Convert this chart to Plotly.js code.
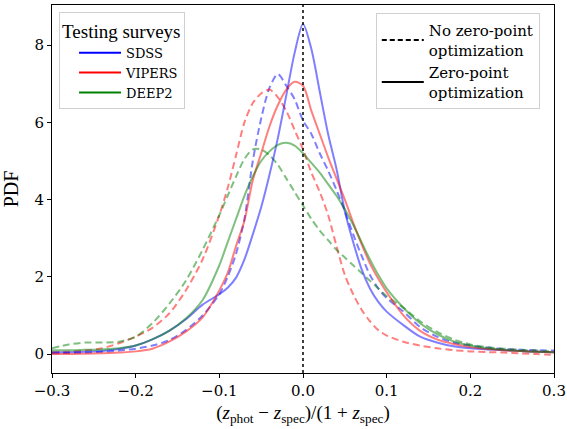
<!DOCTYPE html>
<html>
<head>
<meta charset="utf-8">
<script src="https://cdn.plot.ly/plotly-3.0.1.min.js"></script>
<style>html,body{margin:0;padding:0;background:#fff;}#chart{width:567px;height:429px;}</style>
</head>
<body>
<div id="chart"></div>
<script>
const xGrid = [-0.30,-0.28,-0.26,-0.24,-0.22,-0.20,-0.18,-0.16,-0.14,-0.12,
  -0.10,-0.09,-0.08,-0.07,-0.06,-0.05,-0.04,-0.03,-0.02,-0.01,0.00,0.01,0.02,0.03,0.04,0.05,0.06,0.07,0.08,0.09,0.10,
  0.12,0.14,0.16,0.18,0.20,0.22,0.24,0.26,0.28,0.30];

const sdssZP = [0.05,0.05,0.06,0.08,0.13,0.22,0.38,0.6,0.9,1.28,
  1.55,1.72,1.98,2.45,3.1,3.8,4.65,5.6,6.7,7.8,8.55,7.9,6.8,5.7,4.8,3.7,2.9,2.2,1.7,1.35,1.1,
  0.75,0.45,0.3,0.2,0.15,0.12,0.1,0.08,0.06,0.05];
const sdssNoZP = [0.02,0.03,0.04,0.06,0.09,0.14,0.22,0.36,0.62,1.0,
  1.55,2.0,2.6,3.5,5.0,6.1,6.9,7.25,6.95,6.6,6.05,5.7,5.2,4.75,4.25,3.7,3.1,2.55,2.05,1.7,1.45,
  1.1,0.7,0.45,0.3,0.22,0.17,0.13,0.11,0.1,0.09];
const vipersZP = [0.0,0.0,0.01,0.02,0.04,0.07,0.14,0.32,0.58,0.95,
  1.65,2.1,2.8,3.45,4.5,5.2,5.9,6.45,6.85,7.05,6.95,6.3,5.7,5.1,4.55,4.0,3.4,2.85,2.35,1.95,1.6,
  1.0,0.6,0.38,0.26,0.18,0.13,0.1,0.08,0.06,0.05];
const vipersNoZP = [0.05,0.06,0.09,0.15,0.28,0.45,0.68,1.05,1.65,2.45,
  3.6,4.3,5.15,6.0,6.5,6.75,6.85,6.65,6.3,5.8,5.3,4.7,4.2,3.6,2.8,2.05,1.55,1.15,0.85,0.62,0.48,
  0.32,0.22,0.15,0.1,0.07,0.05,0.04,0.02,0.0,-0.02];
const deep2ZP = [0.1,0.1,0.11,0.12,0.15,0.22,0.38,0.6,0.92,1.4,
  2.3,2.9,3.5,4.1,4.6,5.0,5.25,5.42,5.47,5.4,5.2,4.95,4.7,4.4,4.1,3.75,3.35,2.9,2.45,2.05,1.7,
  1.2,0.8,0.52,0.33,0.22,0.15,0.11,0.08,0.06,0.05];
const deep2NoZP = [0.15,0.25,0.3,0.3,0.32,0.45,0.8,1.3,1.9,2.7,
  3.6,4.1,4.6,5.05,5.3,5.3,5.15,4.9,4.55,4.2,3.85,3.5,3.2,2.95,2.7,2.5,2.3,2.1,1.9,1.7,1.5,
  1.2,0.85,0.58,0.38,0.25,0.18,0.14,0.11,0.09,0.07];

const surveyNames = ["SDSS","VIPERS","DEEP2"];
const styleNames = ["No zero-point<br>optimization","Zero-point<br>optimization"];
const xTickVals = [-0.3,-0.2,-0.1,0.0,0.1,0.2,0.3];
const xTickText = ["\u22120.3","\u22120.2","\u22120.1","0.0","0.1","0.2","0.3"];
const yTickVals = [0,2,4,6,8];

const colors = ["#0000ff","#ff0000","#008000"];
const fade = ["rgba(0,0,255,0.5)","rgba(255,0,0,0.5)","rgba(0,128,0,0.5)"];
const dashPat = "7px,4px";
const solidSets = [sdssZP, vipersZP, deep2ZP];
const dashSets = [sdssNoZP, vipersNoZP, deep2NoZP];

const traces = [];
for (let i = 0; i < 3; i++) {
  traces.push({x: xGrid, y: dashSets[i], mode: 'lines', showlegend: false,
    line: {color: fade[i], width: 2, dash: dashPat, shape: 'spline', smoothing: 0.8}, hoverinfo: 'skip'});
}
for (let i = 0; i < 3; i++) {
  traces.push({x: xGrid, y: solidSets[i], mode: 'lines', showlegend: false,
    line: {color: fade[i], width: 2, shape: 'spline', smoothing: 0.8}, hoverinfo: 'skip'});
}
for (let i = 0; i < 3; i++) {
  traces.push({x: [null], y: [null], mode: 'lines', name: surveyNames[i], legend: 'legend',
    line: {color: colors[i], width: 2}});
}
traces.push({x: [null], y: [null], mode: 'lines', name: styleNames[0], legend: 'legend2',
  line: {color: '#000', width: 2, dash: '5px,3px'}});
traces.push({x: [null], y: [null], mode: 'lines', name: styleNames[1], legend: 'legend2',
  line: {color: '#000', width: 2}});

const serif = "Liberation Serif";
const dserif = "DejaVu Serif";
const layout = {
  width: 567, height: 429,
  margin: {l: 52, r: 13, t: 5, b: 56},
  paper_bgcolor: '#fff', plot_bgcolor: '#fff',
  font: {family: dserif, color: '#000', size: 15},
  xaxis: {range: [-0.3, 0.3], tickvals: xTickVals, ticktext: xTickText,
    showgrid: false, zeroline: false, showline: true, mirror: true, linecolor: '#000', linewidth: 1,
    ticks: 'outside', ticklen: 4, tickwidth: 1, tickcolor: '#000',
    tickfont: {family: dserif, size: 15, color: '#000'},
    title: {text: '(<i>z</i><sub>phot</sub> \u2212 <i>z</i><sub>spec</sub>)/(1 + <i>z</i><sub>spec</sub>)',
      font: {family: serif, size: 19, color: '#000'}, standoff: 6}},
  yaxis: {range: [-0.49, 9.04], tickvals: yTickVals,
    showgrid: false, zeroline: false, showline: true, mirror: true, linecolor: '#000', linewidth: 1,
    ticks: 'outside', ticklen: 4, tickwidth: 1, tickcolor: '#000',
    tickfont: {family: dserif, size: 15, color: '#000'},
    title: {text: 'PDF', font: {family: serif, size: 20, color: '#000'}, standoff: 10}},
  shapes: [{type: 'line', xref: 'x', yref: 'paper', x0: 0, x1: 0, y0: 0, y1: 1,
    line: {color: '#000', width: 1.5, dash: 'dot'}}],
  legend: {x: 0.014, y: 0.981, xanchor: 'left', yanchor: 'top',
    bgcolor: 'rgba(255,255,255,0.8)', bordercolor: '#d0d0d0', borderwidth: 1,
    font: {family: dserif, size: 13, color: '#000'}, tracegroupgap: 0, indentation: 14, itemwidth: 42,
    title: {text: 'Testing surveys', font: {family: serif, size: 19, color: '#000'}}},
  legend2: {x: 0.645, y: 0.978, xanchor: 'left', yanchor: 'top',
    bgcolor: 'rgba(255,255,255,0.8)', bordercolor: '#d0d0d0', borderwidth: 1, itemwidth: 42,
    font: {family: dserif, size: 15, color: '#000'}}
};
Plotly.newPlot('chart', traces, layout, {displayModeBar: false, staticPlot: true});
</script>
</body>
</html>
